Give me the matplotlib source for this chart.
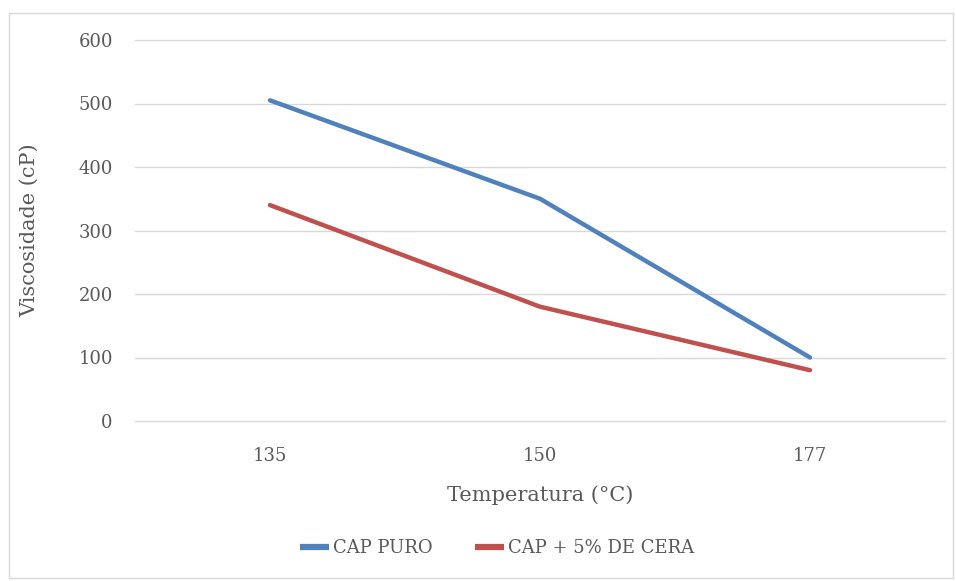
import matplotlib.pyplot as plt
from matplotlib.patches import Rectangle

temperaturas = ['135', '150', '177']
cap_puro = [505, 350, 100]
cap_cera = [340, 180, 80]
y_ticks = [0, 100, 200, 300, 400, 500, 600]

plt.rcParams['font.family'] = ['DejaVu Serif']
cinza = '#595959'

fig = plt.figure(figsize=(9.56, 5.81), dpi=100)
# moldura da área do gráfico
fig.patches.append(Rectangle((9 / 956, 3 / 581), 944 / 956, 565 / 581, transform=fig.transFigure,
                             fill=False, edgecolor='#d9d9d9', linewidth=1))

ax = fig.add_axes([135 / 956, 1 - 421 / 581, 810 / 956, 381 / 581])
x = range(len(temperaturas))
ax.plot(x, cap_puro, color='#4F81BD', linewidth=3.2, label='CAP PURO', solid_capstyle='round')
ax.plot(x, cap_cera, color='#C0504D', linewidth=3.2, label='CAP + 5% DE CERA', solid_capstyle='round')

ax.set_xlim(-0.5, 2.5)
ax.set_ylim(0, 600)
ax.set_yticks(y_ticks)
ax.set_xticks(list(x))
ax.set_xticklabels(temperaturas)
ax.grid(axis='y', color='#d9d9d9', linewidth=1)
for gl in ax.get_ygridlines():
    gl.set_clip_on(False)
ax.set_axisbelow(True)
for s in ['top', 'right', 'left', 'bottom']:
    ax.spines[s].set_visible(False)
ax.tick_params(length=0, labelsize=13, colors=cinza)
ax.tick_params(axis='y', pad=16)
ax.tick_params(axis='x', pad=19)

ax.set_xlabel('Temperatura (°C)', fontsize=15, color=cinza, labelpad=14)
ax.set_ylabel('Viscosidade (cP)', fontsize=15, color=cinza, labelpad=28)

fig.legend(loc='center', bbox_to_anchor=(0.52, 1 - 548 / 581), ncol=2, frameon=False,
           fontsize=13, labelcolor=cinza, handlelength=1.6, columnspacing=2.3, handletextpad=0.25)
for ln in fig.legends[0].get_lines():
    ln.set_linewidth(4.5)
    ln.set_solid_capstyle('butt')

fig.savefig('out.png', dpi=100)
